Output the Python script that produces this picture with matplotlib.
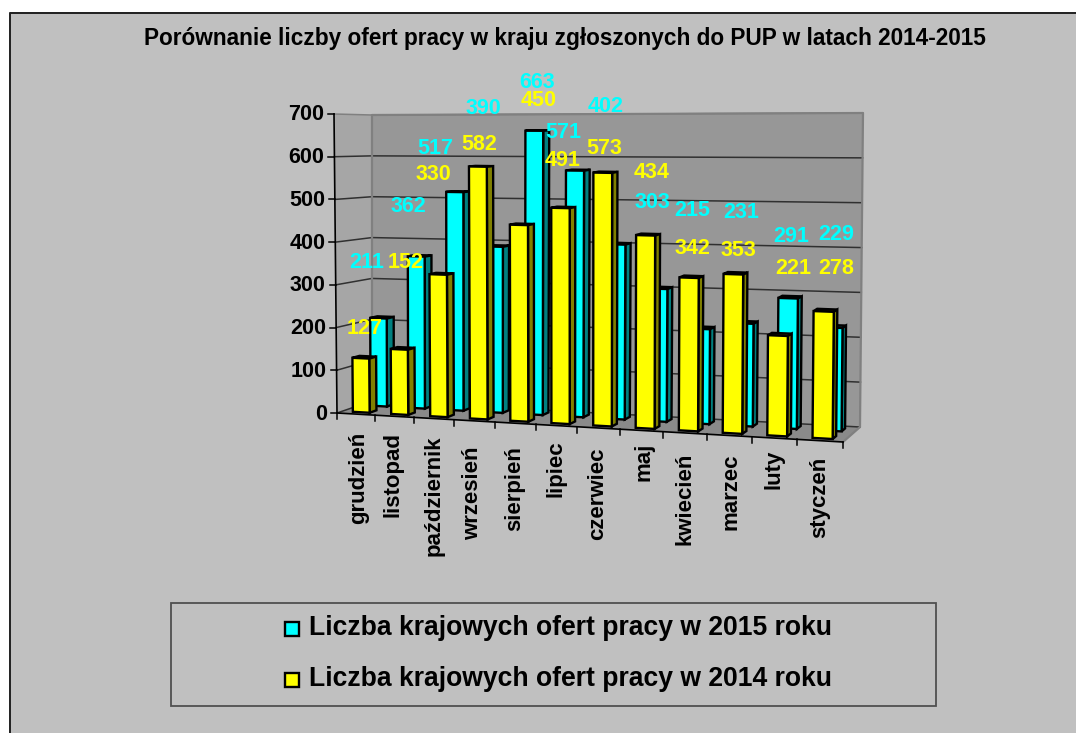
import numpy as np
import matplotlib
matplotlib.use('Agg')
import matplotlib.pyplot as plt
from matplotlib.patches import Polygon, Rectangle

plt.rcParams['font.family'] = ['Liberation Sans', 'DejaVu Sans']

months = ['grudzień', 'listopad', 'październik', 'wrzesień', 'sierpień', 'lipiec',
          'czerwiec', 'maj', 'kwiecień', 'marzec', 'luty', 'styczeń']
oferty_2015 = [211, 362, 517, 390, 663, 571, 402, 303, 215, 231, 291, 229]
oferty_2014 = [127, 152, 330, 582, 450, 491, 573, 434, 342, 353, 221, 278]
y_ticks = [0, 100, 200, 300, 400, 500, 600, 700]
legend_labels = ['Liczba krajowych ofert pracy w 2015 roku',
                 'Liczba krajowych ofert pracy w 2014 roku']
title = 'Porównanie liczby ofert pracy w kraju zgłoszonych do PUP w latach 2014-2015'

# where the labels ended up in the original (pixels), they do not follow the bars
label_pos_2015 = [(367, 263), (408, 207), (435, 148), (483, 108), (537, 82), (563, 133),
                  (606, 106), (652, 203), (692, 210), (741, 213), (791, 237), (836, 234)]
label_pos_2014 = [(365, 328), (406, 263), (433, 174), (479, 144), (539, 101), (563, 160),
                  (604, 148), (652, 173), (692, 248), (738, 250), (793, 268), (836, 268)]
month_pos = [(359, 432), (393, 432), (434, 435), (473, 446), (515, 446), (556, 440),
             (598, 447), (644, 443), (685, 453), (731, 453), (774, 450), (820, 457)]

# 8 corners of the 3D box in pixels: (front/back, left/right, bottom/top)
box = {
    ('f', 'l', 0): (337, 413), ('f', 'l', 1): (334, 114),
    ('f', 'r', 0): (843, 442), ('f', 'r', 1): (846, 120),
    ('b', 'l', 0): (372, 401), ('b', 'l', 1): (372, 115),
    ('b', 'r', 0): (860, 427), ('b', 'r', 1): (863, 113),
}
N = len(months)
YMAX = 700
K = 0.11  # categories get wider towards the right


def proj(u, v, h):
    """category position u, depth v (0 front, 1 back), value h -> pixels"""
    s = u / N
    t = s * (1 + K * s) / (1 + K)
    w = h / YMAX
    p = np.zeros(2)
    for d, wd in (('f', 1 - v), ('b', v)):
        for e, we in (('l', 1 - t), ('r', t)):
            for z, wz in ((0, 1 - w), (1, w)):
                p += wd * we * wz * np.array(box[(d, e, z)], dtype=float)
    return p


fig = plt.figure(figsize=(10.76, 7.33), dpi=100)
ax = fig.add_axes([0, 0, 1, 1])
ax.set_xlim(0, 1076)
ax.set_ylim(733, 0)
ax.axis('off')

# chart area
ax.add_patch(Rectangle((9, 12), 1080, 730, fc='#c0c0c0', ec='none', zorder=0))
ax.plot([9.5, 9.5, 1076], [733, 12.5, 12.5], color='#202020', lw=1.4, zorder=1)


def face(points, fc, ec='none', lw=0.0, z=2):
    ax.add_patch(Polygon(points, closed=True, fc=fc, ec=ec, lw=lw, zorder=z, joinstyle='miter'))


# walls and floor
face([proj(0, 0, 0), proj(0, 1, 0), proj(0, 1, YMAX), proj(0, 0, YMAX)], '#a6a6a6')
face([proj(0, 1, 0), proj(N, 1, 0), proj(N, 1, YMAX), proj(0, 1, YMAX)], '#979797')
face([proj(0, 0, 0), proj(N, 0, 0), proj(N, 1, 0), proj(0, 1, 0)], '#8a8a8a')

for val in y_ticks:
    pts = np.array([proj(0, 0, val), proj(0, 1, val), proj(N, 1, val)])
    col = '#808080' if val == YMAX else '#303030'
    ax.plot(pts[:, 0], pts[:, 1], color=col, lw=1.1, zorder=3)
    lft = proj(0, 0, val)
    ax.plot([lft[0] - 6, lft[0]], [lft[1], lft[1]], color='black', lw=1.1, zorder=3)
    ax.text(lft[0] - 10, lft[1] + 1, str(val), ha='right', va='center', fontsize=15.5,
            fontweight='bold', color='black', zorder=6)

pts = np.array([proj(0, 1, 0), proj(0, 1, YMAX), proj(N, 1, YMAX), proj(N, 1, 0), proj(N, 0, 0)])
ax.plot(pts[:, 0], pts[:, 1], color='#808080', lw=1.6, zorder=3)

# axes lines
pts = np.array([proj(0, 0, YMAX), proj(0, 0, 0), proj(N, 0, 0)])
ax.plot(pts[:, 0], pts[:, 1], color='black', lw=1.2, zorder=3)
for i in range(N + 1):
    p = proj(i, 0, 0)
    ax.plot([p[0], p[0]], [p[1], p[1] + 6], color='black', lw=1.1, zorder=3)


def bar3d(i, val, v0, v1, front, side):
    u0, u1 = i + 0.28, i + 0.72
    face([proj(u0, v0, val), proj(u1, v0, val), proj(u1, v1, val), proj(u0, v1, val)],
         side, 'black', 1.7, 4)
    face([proj(u1, v0, 0), proj(u1, v1, 0), proj(u1, v1, val), proj(u1, v0, val)],
         side, 'black', 1.7, 4)
    face([proj(u0, v0, 0), proj(u1, v0, 0), proj(u1, v0, val), proj(u0, v0, val)],
         front, 'black', 1.7, 4)


for i, val in enumerate(oferty_2015):
    bar3d(i, val, 0.66, 0.86, '#00ffff', '#008080')
for i, val in enumerate(oferty_2014):
    bar3d(i, val, 0.15, 0.35, '#ffff00', '#808000')

# data labels
for val, pos in zip(oferty_2015, label_pos_2015):
    ax.text(pos[0], pos[1], str(val), ha='center', va='center', fontsize=15.5,
            fontweight='bold', color='#00ffff', zorder=7)
for val, pos in zip(oferty_2014, label_pos_2014):
    ax.text(pos[0], pos[1], str(val), ha='center', va='center', fontsize=15.5,
            fontweight='bold', color='#ffff00', zorder=7)

for name, pos in zip(months, month_pos):
    ax.text(pos[0], pos[1], name, rotation=90, ha='center', va='top', fontsize=16,
            fontweight='bold', color='black', zorder=6)

ax.text(565, 39, title, ha='center', va='center', fontsize=16.3, fontweight='bold',
        color='black', zorder=6)

# legend
ax.add_patch(Rectangle((171, 603), 765, 103, fc='none', ec='#505050', lw=1.3, zorder=5))
for label, col, yc in zip(legend_labels, ['#00ffff', '#ffff00'], [628, 679]):
    ax.add_patch(Rectangle((285, yc - 6.5), 14, 14, fc=col, ec='black', lw=1.7, zorder=6))
    ax.text(309, yc, label, ha='left', va='center', fontsize=19.1, fontweight='bold',
            color='black', zorder=6)

fig.savefig('out.png', dpi=100)
